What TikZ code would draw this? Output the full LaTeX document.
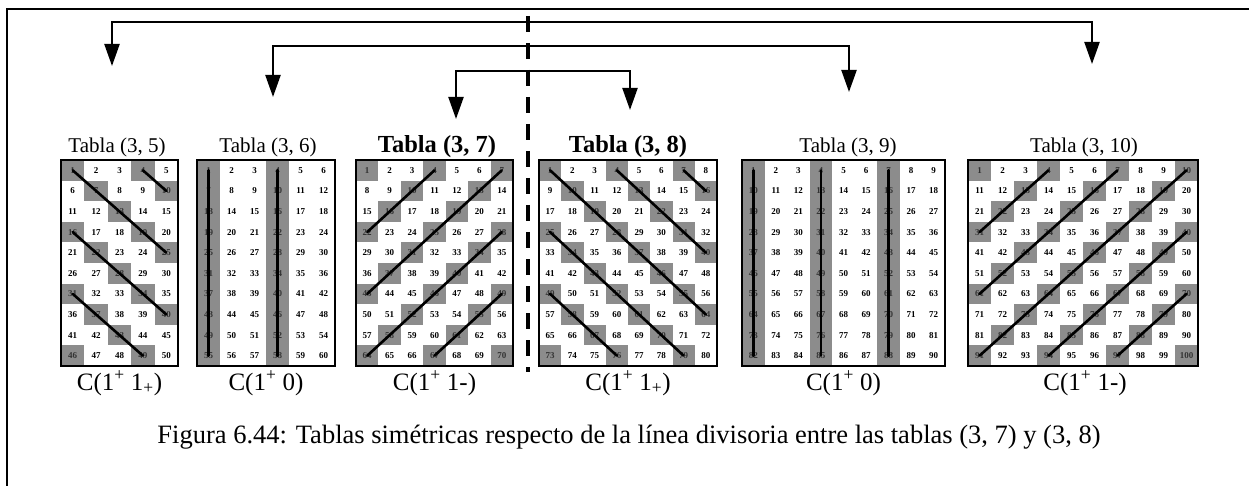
\documentclass[tikz,border=0pt]{standalone}
\usepackage{fontspec}
\setmainfont{Liberation Serif}
\usetikzlibrary{arrows.meta}
\newcommand{\Gtop}{160}
\newcommand{\Gbot}{366}
\newcommand{\Rh}{20.6}
\tikzset{
  frameline/.style={line width=1.3pt},
  arrline/.style={line width=2.2pt, line join=miter,
    {Triangle[width=15pt,length=22pt]}-{Triangle[width=15pt,length=22pt]}},
  divline/.style={line width=4pt, dash pattern=on 16pt off 11pt},
  cellbox/.style={fill=black!45},
  num/.style={inner sep=0pt, font=\fontsize{9}{9}\selectfont\bfseries},
  numsh/.style={num, text=black!80},
  gridframe/.style={line width=1.2pt},
  diagline/.style={line width=2.6pt, line cap=round},
  tlabel/.style={anchor=base, inner sep=0pt, font=\fontsize{21}{21}\selectfont},
  tlabelb/.style={anchor=base, inner sep=0pt, font=\fontsize{24.5}{24.5}\selectfont\bfseries},
  clabel/.style={anchor=base, inner sep=0pt, font=\fontsize{25}{25}\selectfont},
  captext/.style={anchor=base, inner sep=0pt, font=\fontsize{26.5}{26.5}\selectfont},
}
% #1 columns, #2 left x, #3 right x, #4 name
\newcommand{\mytable}[4]{%
  \pgfmathsetmacro{\tcw}{(#3-#2)/#1}%
  \foreach \r in {1,...,10}{%
    \foreach \c in {1,...,#1}{%
      \pgfmathtruncatemacro{\kk}{(\r-1)*#1+\c}%
      \pgfmathtruncatemacro{\mm}{mod(\kk,3)}%
      \pgfmathsetmacro{\xa}{#2+(\c-1)*\tcw}%
      \pgfmathsetmacro{\ya}{\Gtop+(\r-1)*\Rh}%
      \ifnum\mm=1
        \fill[cellbox] (\xa,\ya) rectangle ++(\tcw,\Rh);
        \node[numsh] (#4-\r-\c) at (\xa+0.5*\tcw,\ya+0.5*\Rh) {\kk};
      \else
        \node[num] (#4-\r-\c) at (\xa+0.5*\tcw,\ya+0.5*\Rh) {\kk};
      \fi
    }%
  }%
  \draw[gridframe] (#2,\Gtop) rectangle (#3,\Gbot);
}
\begin{document}
\begin{tikzpicture}[x=1pt,y=-1pt]
\useasboundingbox (0,0) rectangle (1249,486);
% frame
\draw[frameline] (1249,9) -- (7,9) -- (7,486);
% tables
\mytable{5}{61}{178}{a}
\mytable{6}{197}{335}{b}
\mytable{7}{356}{513}{c}
\mytable{8}{539}{717}{d}
\mytable{9}{742}{945}{e}
\mytable{10}{968}{1198}{f}
% lines in tables
\draw[diagline] (a-1-4.center) -- (a-2-5.center);
\draw[diagline] (a-1-1.center) -- (a-5-5.center);
\draw[diagline] (a-4-1.center) -- (a-8-5.center);
\draw[diagline] (a-7-1.center) -- (a-10-4.center);
\draw[diagline] (b-1-1.center) -- (b-10-1.center);
\draw[diagline] (b-1-4.center) -- (b-10-4.center);
\draw[diagline] (c-4-1.center) -- (c-1-4.center);
\draw[diagline] (c-7-1.center) -- (c-1-7.center);
\draw[diagline] (c-10-1.center) -- (c-4-7.center);
\draw[diagline] (c-10-4.center) -- (c-7-7.center);
\draw[diagline] (d-1-1.center) -- (d-8-8.center);
\draw[diagline] (d-1-4.center) -- (d-5-8.center);
\draw[diagline] (d-1-7.center) -- (d-2-8.center);
\draw[diagline] (d-4-1.center) -- (d-10-7.center);
\draw[diagline] (d-7-1.center) -- (d-10-4.center);
\draw[diagline] (e-1-1.center) -- (e-10-1.center);
\draw[diagline] (e-1-4.center) -- (e-10-4.center);
\draw[diagline] (e-1-7.center) -- (e-10-7.center);
\draw[diagline] (f-4-1.center) -- (f-1-4.center);
\draw[diagline] (f-7-1.center) -- (f-1-7.center);
\draw[diagline] (f-10-1.center) -- (f-1-10.center);
\draw[diagline] (f-10-4.center) -- (f-4-10.center);
\draw[diagline] (f-10-7.center) -- (f-7-10.center);
% labels
\node[tlabel]  (la) at (117,153) {Tabla (3, 5)};
\node[tlabel]  (lb) at (268,153) {Tabla (3, 6)};
\node[tlabelb] (lc) at (437,153) {Tabla (3, 7)};
\node[tlabelb] (ld) at (628,153) {Tabla (3, 8)};
\node[tlabel]  (le) at (848,153) {Tabla (3, 9)};
\node[tlabel]  (lf) at (1084,153) {Tabla (3, 10)};
\node[clabel] (ca) at (119.5,390) {C(1\textsuperscript{+} 1\textsubscript{+})};
\node[clabel] (cb) at (266,390) {C(1\textsuperscript{+} 0)};
\node[clabel] (cc) at (434.5,390) {C(1\textsuperscript{+} 1-)};
\node[clabel] (cd) at (628,390) {C(1\textsuperscript{+} 1\textsubscript{+})};
\node[clabel] (ce) at (843.5,390) {C(1\textsuperscript{+} 0)};
\node[clabel] (cf) at (1085,390) {C(1\textsuperscript{+} 1-)};
\node[captext] (cap) at (629,443) {Figura 6.44: Tablas simétricas respecto de la línea divisoria entre las tablas (3, 7) y (3, 8)};
% dividing line
\coordinate (dtop) at (528,16);
\coordinate (dbot) at (528,372);
\draw[divline] (dtop) -- (dbot);
% arrows
\coordinate (oL) at (112,22);  \coordinate (oR) at (1092,22);
\coordinate (oLt) at (112,66); \coordinate (oRt) at (1092,64);
\coordinate (mL) at (273,46);  \coordinate (mR) at (849,46);
\coordinate (mLt) at (273,97); \coordinate (mRt) at (849,92);
\coordinate (iL) at (456,71);  \coordinate (iR) at (630,71);
\coordinate (iLt) at (456,119); \coordinate (iRt) at (630,110);
\draw[arrline] (oLt) -- (oL) -- (oR) -- (oRt);
\draw[arrline] (mLt) -- (mL) -- (mR) -- (mRt);
\draw[arrline] (iLt) -- (iL) -- (iR) -- (iRt);
\end{tikzpicture}
\end{document}
